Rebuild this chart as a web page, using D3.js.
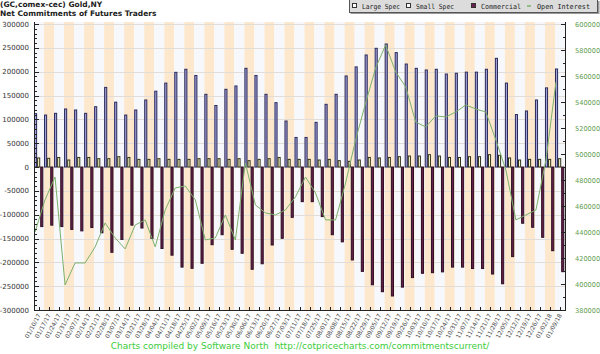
<!DOCTYPE html>
<html>
<head>
<meta charset="utf-8">
<script src="https://cdn.jsdelivr.net/npm/d3@7"></script>
<style>
  html, body { margin: 0; padding: 0; background: #fff; }
  svg { display: block; }
</style>
</head>
<body>
<div id="chart"></div>
<script>
// weekly report dates
const dates = [
  "01/10/17", "01/17/17", "01/24/17", "01/31/17", "02/07/17", "02/14/17", "02/21/17", "02/28/17",
  "03/07/17", "03/14/17", "03/21/17", "03/28/17", "04/04/17", "04/11/17", "04/18/17", "04/25/17",
  "05/02/17", "05/09/17", "05/16/17", "05/23/17", "05/30/17", "06/06/17", "06/13/17", "06/20/17",
  "06/27/17", "07/03/17", "07/11/17", "07/18/17", "07/25/17", "08/01/17", "08/08/17", "08/15/17",
  "08/22/17", "08/29/17", "09/05/17", "09/12/17", "09/19/17", "09/26/17", "10/03/17", "10/10/17",
  "10/17/17", "10/24/17", "10/31/17", "11/07/17", "11/14/17", "11/21/17", "11/28/17", "12/05/17",
  "12/12/17", "12/19/17", "12/26/17", "01/02/18", "01/09/18"
];

const largeSpec = [
  112000, 109000, 112600, 121700, 119600, 112600, 126500, 167000, 136000, 109000, 119600, 140600,
  159000, 176000, 198600, 205000, 192000, 152500, 129000, 163000, 170000, 207000, 192000, 152500,
  135000, 96500, 62000, 62000, 93700, 131500, 152500, 191000, 210000, 235000, 249000, 258000,
  240000, 216000, 207000, 203500, 205000, 195000, 196700, 199000, 199000, 205000, 228000, 176000,
  110000, 117500, 140600, 166000, 205600
];

const smallSpec = [
  19000, 18200, 20000, 14700, 20000, 20000, 17500, 17500, 21700, 20000, 16000, 16000,
  17500, 16000, 16000, 16000, 17500, 17500, 17500, 16000, 17500, 13300, 16000, 17500,
  20000, 16000, 16000, 16000, 14700, 16000, 13300, 11900, 14700, 20000, 19000, 20000,
  21700, 23000, 23000, 25900, 23000, 20000, 20000, 21700, 21700, 25900, 24500, 19000,
  14700, 16000, 16000, 16000, 17500
];

const commercial = [
  -125000, -122000, -125000, -131000, -134000, -127000, -138000, -179000, -152000, -122000, -128000, -150000,
  -171000, -185000, -210000, -212600, -202000, -163000, -142000, -172700, -181000, -214600, -203000, -163600,
  -149600, -105600, -72700, -72700, -104000, -142000, -157000, -195000, -219000, -247000, -261600, -270600,
  -252000, -232000, -223000, -221700, -220000, -210000, -210000, -213000, -213000, -224500, -245000, -188000,
  -118000, -126500, -147500, -175600, -219600
];

const openInterest = [
  440000, 464700, 482300, 399300, 416200, 416200, 428500, 447000, 435400, 427000, 445400, 449300,
  428500, 457000, 473900, 475400, 464700, 433900, 435400, 453100, 433900, 493100, 460800, 454700,
  453100, 457000, 467000, 482300, 470000, 449300, 449300, 477700, 510800, 539200, 566200, 583900,
  563100, 551600, 524600, 520800, 529300, 528500, 532300, 537700, 534600, 532300, 510800, 487700,
  449300, 453100, 457000, 495400, 555400
];

const leftTicks = [300000, 250000, 200000, 150000, 100000, 50000, 0, -50000, -100000, -150000, -200000, -250000, -300000];
const rightTicks = [600000, 580000, 560000, 540000, 520000, 500000, 480000, 460000, 440000, 420000, 400000, 380000];

const legendItems = [
  { label: "Large Spec", kind: "box", fill: "#fff", stroke: "#333", x: 3, len: 38 },
  { label: "Small Spec", kind: "box", fill: "#fff", stroke: "#333", x: 57, len: 38 },
  { label: "Commercial", kind: "box", fill: "#6b2250", stroke: "#333", x: 122, len: 40 },
  { label: "Open Interest", kind: "line", stroke: "#7cb06a", x: 178, len: 53 }
];

const width = 600, height = 354;
const plot = { left: 34, right: 565, top: 22, bottom: 310 };

const svg = d3.select("#chart").append("svg")
  .attr("width", width)
  .attr("height", height)
  .style("font-family", "'DejaVu Sans', Verdana, sans-serif");

const x = d3.scaleBand().domain(dates).range([plot.left, plot.right]).paddingInner(0).paddingOuter(0);
const bw = x.bandwidth();
const xSeries = d3.scaleBand().domain(["large", "small", "comm"]).range([0, bw * 0.93]);
const sw = xSeries.bandwidth();

const y = d3.scaleLinear().domain([-300000, 300000]).range([310, 24]);
const yOI = d3.scaleLinear().domain([380000, 600000]).range([310, 24]);

// stripes
svg.append("g").attr("class", "stripes")
  .selectAll("rect")
  .data(dates)
  .join("rect")
  .attr("x", (d) => x(d))
  .attr("width", bw)
  .attr("y", plot.top)
  .attr("height", plot.bottom - plot.top)
  .attr("fill", (d, i) => (i % 2 ? "#fde8cd" : "#f6f8fc"));

// horizontal grid
svg.append("g").attr("class", "grid")
  .selectAll("line")
  .data(leftTicks)
  .join("line")
  .attr("x1", plot.left).attr("x2", plot.right)
  .attr("y1", (d) => Math.round(y(d)) + 0.5).attr("y2", (d) => Math.round(y(d)) + 0.5)
  .attr("stroke", "#e2ddd6").attr("stroke-width", 1);

// bars
const barsG = svg.append("g").attr("class", "bars");
const rows = dates.map((d, i) => ({ date: d, large: largeSpec[i], small: smallSpec[i], comm: commercial[i] }));

const barStyle = {
  large: { fill: "#a3a3dc", stroke: "#2a2a5a" },
  small: { fill: "#fdfccc", stroke: "#33331a" },
  comm: { fill: "#65204b", stroke: "#2d0f22" }
};

["large", "small", "comm"].forEach((key) => {
  barsG.selectAll(`rect.${key}`)
    .data(rows)
    .join("rect")
    .attr("class", key)
    .attr("x", (d) => x(d.date) + xSeries(key) + 0.5)
    .attr("width", sw - 1)
    .attr("y", (d) => Math.min(y(d[key]), y(0)))
    .attr("height", (d) => Math.abs(y(d[key]) - y(0)))
    .attr("fill", barStyle[key].fill)
    .attr("stroke", barStyle[key].stroke)
    .attr("stroke-width", 1);
});

// open interest line
const oiLine = d3.line()
  .x((d, i) => x(dates[i]) + 1)
  .y((d) => yOI(d));

svg.append("path")
  .attr("d", oiLine(openInterest))
  .attr("fill", "none")
  .attr("stroke", "#7cb06a")
  .attr("stroke-width", 1);

// left axis
const leftAxis = svg.append("g").attr("class", "y-left");
leftAxis.append("line")
  .attr("x1", plot.left + 0.5).attr("x2", plot.left + 0.5)
  .attr("y1", plot.top).attr("y2", plot.bottom)
  .attr("stroke", "#222");
leftAxis.selectAll("line.minor")
  .data(d3.range(-300000, 300001, 10000))
  .join("line")
  .attr("class", "minor")
  .attr("x1", plot.left).attr("x2", (d) => plot.left + (d % 50000 === 0 ? 5 : 3))
  .attr("y1", (d) => Math.round(y(d)) + 0.5).attr("y2", (d) => Math.round(y(d)) + 0.5)
  .attr("stroke", "#222");
leftAxis.selectAll("text")
  .data(leftTicks)
  .join("text")
  .attr("x", plot.left - 5)
  .attr("y", (d) => y(d) + 2.5)
  .attr("text-anchor", "end")
  .attr("font-size", "7px")
  .attr("fill", "#333")
  .text((d) => d);

// right axis
const rightAxis = svg.append("g").attr("class", "y-right");
rightAxis.append("line")
  .attr("x1", plot.right + 0.5).attr("x2", plot.right + 0.5)
  .attr("y1", plot.top).attr("y2", plot.bottom)
  .attr("stroke", "#222");
rightAxis.selectAll("line.minor")
  .data(d3.range(380000, 600001, 10000))
  .join("line")
  .attr("class", "minor")
  .attr("x1", plot.right + 1).attr("x2", (d) => plot.right + 1 - (d % 20000 === 0 ? 5 : 3))
  .attr("y1", (d) => Math.round(yOI(d)) + 0.5).attr("y2", (d) => Math.round(yOI(d)) + 0.5)
  .attr("stroke", "#222");
rightAxis.selectAll("text")
  .data(rightTicks)
  .join("text")
  .attr("x", plot.right + 10)
  .attr("y", (d) => yOI(d) + 2.5)
  .attr("font-size", "6.6px")
  .attr("fill", "#5f9d4f")
  .text((d) => d);

// bottom axis
const bottomAxis = svg.append("g").attr("class", "x-axis");
bottomAxis.append("line")
  .attr("x1", plot.left).attr("x2", plot.right + 1)
  .attr("y1", plot.bottom + 0.5).attr("y2", plot.bottom + 0.5)
  .attr("stroke", "#222");
bottomAxis.selectAll("line.tick")
  .data(dates)
  .join("line")
  .attr("class", "tick")
  .attr("x1", (d) => Math.round(x(d) + bw / 2) + 0.5).attr("x2", (d) => Math.round(x(d) + bw / 2) + 0.5)
  .attr("y1", plot.bottom).attr("y2", plot.bottom - 3)
  .attr("stroke", "#222");
bottomAxis.selectAll("text")
  .data(dates)
  .join("text")
  .attr("transform", (d) => `translate(${x(d) + bw / 2 + 2},${plot.bottom + 5}) rotate(-62)`)
  .attr("text-anchor", "end")
  .attr("font-size", "6px")
  .attr("fill", "#444")
  .text((d) => d);

// title
svg.append("text")
  .attr("x", 0).attr("y", 7)
  .attr("font-size", "7.5px").attr("font-weight", "bold").attr("fill", "#222")
  .text("(GC,comex-cec) Gold,NY");
svg.append("text")
  .attr("x", 0).attr("y", 16)
  .attr("font-size", "7.5px").attr("font-weight", "bold").attr("fill", "#222")
  .text("Net Commitments of Futures Traders");

// legend
const legend = svg.append("g").attr("class", "legend").attr("transform", "translate(349,0)");
legend.append("rect").attr("x", 1.5).attr("y", 1).attr("width", 249).attr("height", 13).attr("fill", "#999");
legend.append("rect").attr("x", 0.5).attr("y", -0.5).attr("width", 248).attr("height", 13)
  .attr("fill", "#dcdcdc").attr("stroke", "#555");
legendItems.forEach((item) => {
  const g = legend.append("g").attr("transform", `translate(${item.x},0)`);
  if (item.kind === "box") {
    g.append("rect").attr("x", 0.5).attr("y", 3.5).attr("width", 4).attr("height", 4)
      .attr("fill", item.fill).attr("stroke", item.stroke);
  } else {
    g.append("line").attr("x1", 0).attr("x2", 4).attr("y1", 6).attr("y2", 6)
      .attr("stroke", item.stroke).attr("stroke-width", 1.5);
  }
  g.append("text")
    .attr("x", 10).attr("y", 8.5)
    .attr("font-family", "'DejaVu Sans Mono', monospace")
    .attr("font-size", "7px").attr("fill", "#222")
    .attr("textLength", item.len).attr("lengthAdjust", "spacingAndGlyphs")
    .text(item.label);
});

// footer
svg.append("text")
  .attr("x", 300).attr("y", 349)
  .attr("text-anchor", "middle")
  .attr("font-size", "9px").attr("fill", "#3ccc3c")
  .attr("xml:space", "preserve")
  .text("Charts compiled by Software North  http://cotpricecharts.com/commitmentscurrent/");
</script>
</body>
</html>
